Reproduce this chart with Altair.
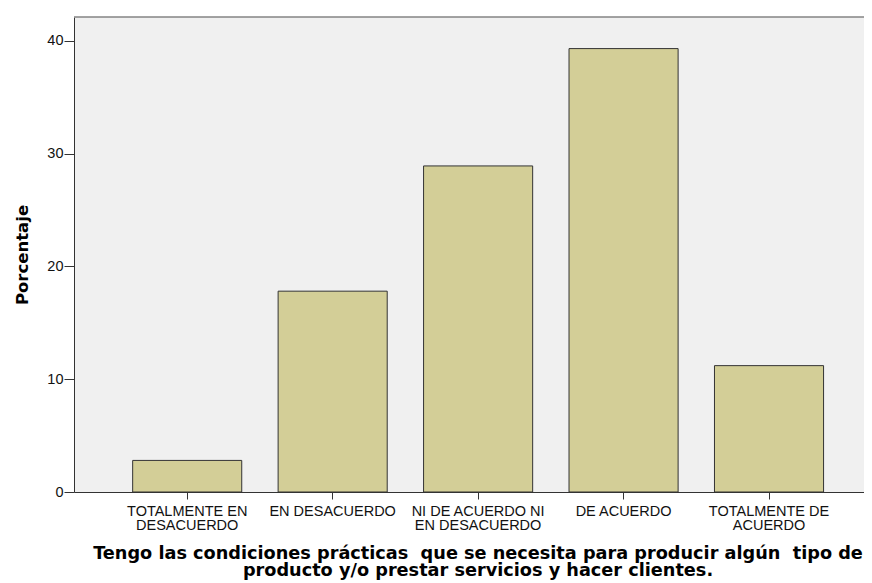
import altair as alt
import pandas as pd

categories = ["TOTALMENTE EN|DESACUERDO", "EN DESACUERDO", "NI DE ACUERDO NI|EN DESACUERDO",
              "DE ACUERDO", "TOTALMENTE DE|ACUERDO"]
percentages = [2.8, 17.8, 28.9, 39.3, 11.2]
y_ticks = [0, 10, 20, 30, 40]
x_title = ["Tengo las condiciones prácticas \u00a0que se necesita para producir algún \u00a0tipo de",
           "producto y/o prestar servicios y hacer clientes."]
y_title = "Porcentaje"

df = pd.DataFrame({"cat": categories, "pct": percentages})

W, H = 790, 475

bars = alt.Chart(df).mark_bar(color="#d3ce97", stroke="#333333", strokeWidth=1).encode(
    x=alt.X("cat:N", sort=categories,
            scale=alt.Scale(paddingInner=0.25, paddingOuter=0.3406, align=0.592, round=False),
            axis=alt.Axis(title=x_title, labelAngle=0, labelExpr="split(datum.label, '|')",
                          labelFont="Liberation Sans", labelFontSize=14.5, labelLineHeight=14.5,
                          labelColor="#111111", labelPadding=5, tickSize=7, tickColor="#333333",
                          domainColor="#333333", titleFont="DejaVu Sans", titleFontSize=17.7,
                          titleFontWeight="bold", titleColor="#000000", titleLineHeight=17.5,
                          titlePadding=12, titleX=403.5)),
    y=alt.Y("pct:Q", scale=alt.Scale(domain=[0, 42.1], nice=False),
            axis=alt.Axis(title=y_title, values=y_ticks, grid=False, labelFont="Liberation Sans",
                          labelFontSize=14.5, labelColor="#111111", labelPadding=1, tickSize=10,
                          tickColor="#333333", domainColor="#333333", titleFont="DejaVu Sans",
                          titleFontSize=16.5, titleFontWeight="bold", titleColor="#000000",
                          titlePadding=16)),
)

top = alt.Chart(pd.DataFrame({"v": [0]})).mark_rule(color="#858585", strokeWidth=1.5).encode(
    x=alt.value(0), x2=alt.value(W), y=alt.value(0)
)

chart = alt.layer(bars, top).properties(
    width=W, height=H,
    background="white",
    autosize=alt.AutoSizeParams(type="none"),
    padding={"left": 66, "top": 9, "right": 0, "bottom": 91},
).configure_view(fill="#f0f0f0", strokeWidth=0)

chart.save("out.html", embed_options={"renderer": "svg", "actions": False})
